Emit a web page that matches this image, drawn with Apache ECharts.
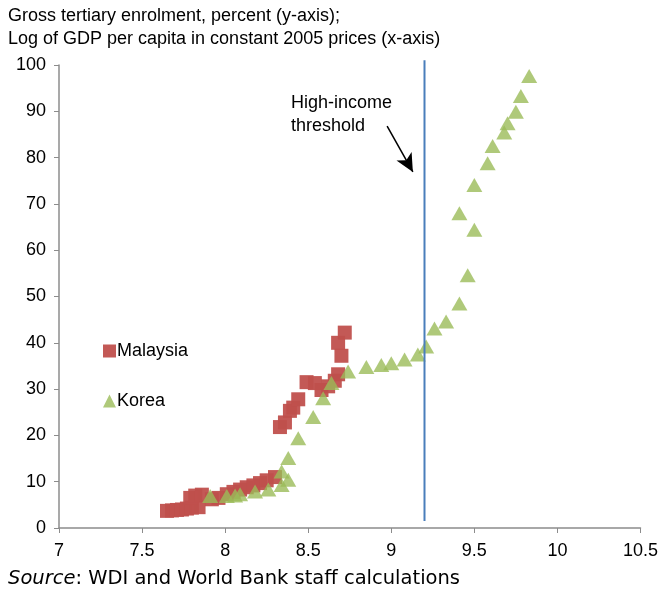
<!DOCTYPE html>
<html lang="en">
<head>
    <meta charset="UTF-8" />
    <title>Tertiary enrolment vs GDP per capita</title>
    <style>
        body {
            margin: 0;
            padding: 0;
            background: #fff;
        }
        .chart {
            width: 661px;
            height: 590px;
        }
    </style>
</head>
<body>
<div class="chart"></div>
<script src="https://cdn.jsdelivr.net/npm/echarts@6/dist/echarts.min.js"></script>
<script>
    // log GDP per capita (x), gross tertiary enrolment % (y)
    const malaysia = [
        [7.65, 3.7], [7.68, 3.8], [7.71, 3.9], [7.74, 4.0], [7.77, 4.2], [7.80, 4.4], [7.84, 4.5],
        [7.79, 6.5], [7.82, 7.0], [7.86, 7.2], [7.92, 6.2], [7.96, 6.5], [8.01, 7.3], [8.05, 7.8],
        [8.09, 8.3], [8.13, 8.8], [8.17, 9.2], [8.21, 9.7], [8.25, 10.3], [8.30, 11.0],
        [8.33, 21.8], [8.36, 22.8], [8.39, 25.3], [8.41, 26.0], [8.44, 27.8], [8.49, 31.5],
        [8.54, 31.3], [8.58, 29.8], [8.62, 30.6], [8.66, 31.8], [8.68, 33.2], [8.70, 37.2],
        [8.68, 40.0], [8.72, 42.2]
    ];
    const korea = [
        [7.91, 6.9], [8.01, 6.9], [8.06, 7.0], [8.09, 7.3], [8.18, 7.9], [8.26, 8.3], [8.34, 9.3],
        [8.38, 10.4], [8.34, 12.2], [8.38, 15.1], [8.44, 19.4], [8.53, 24.0], [8.59, 28.0],
        [8.64, 31.3], [8.74, 33.8], [8.85, 34.8], [8.94, 35.2], [9.00, 35.6], [9.08, 36.4],
        [9.16, 37.5], [9.21, 39.2], [9.26, 43.1], [9.33, 44.6], [9.41, 48.5], [9.46, 54.6],
        [9.50, 64.4], [9.41, 68.0], [9.50, 74.1], [9.58, 78.8], [9.61, 82.5], [9.68, 85.4],
        [9.70, 87.4], [9.75, 89.9], [9.78, 93.3], [9.83, 97.6]
    ];
    const threshold = 9.2;
    const thresholdLine = [[threshold, 1.5], [threshold, 101]];
    const arrowFrom = [8.975, 86.8];
    const arrowTo = [9.13, 76.9];

    const chart = echarts.init(document.querySelector('.chart'));
    const axisGray = '#8c8c8c';
    const font = '"Liberation Sans", Arial, sans-serif';
    const srcFont = '"DejaVu Sans", sans-serif';

    const option = {
        animation: false,
        textStyle: { fontFamily: font },
        title: {
            text: 'Gross tertiary enrolment, percent (y-axis);\nLog of GDP per capita in constant 2005 prices (x-axis)',
            left: 8,
            top: 5,
            padding: 0,
            textStyle: { fontSize: 18, fontWeight: 'normal', color: '#000', lineHeight: 23, fontFamily: font }
        },
        legend: {
            orient: 'vertical',
            left: 98,
            top: 337,
            itemGap: 32,
            itemWidth: 13,
            itemHeight: 13,
            textStyle: { fontSize: 18, color: '#000', padding: [0, 0, 0, -4] },
            data: [
                { name: 'Malaysia', icon: 'rect' },
                { name: 'Korea', icon: 'triangle' }
            ]
        },
        grid: { left: 59, right: 20, top: 65, bottom: 62 },
        xAxis: {
            type: 'value',
            min: 7,
            max: 10.5,
            interval: 0.5,
            splitLine: { show: false },
            axisLine: { lineStyle: { color: axisGray, width: 1.5 } },
            axisTick: { lineStyle: { color: axisGray }, length: 5 },
            axisLabel: { color: '#000', fontSize: 18, margin: 14 }
        },
        yAxis: {
            type: 'value',
            min: 0,
            max: 100,
            interval: 10,
            splitLine: { show: false },
            axisLine: { show: true, lineStyle: { color: axisGray, width: 1.5 } },
            axisTick: { show: true, lineStyle: { color: axisGray }, length: 5 },
            axisLabel: { color: '#000', fontSize: 18, margin: 13 }
        },
        graphic: [
            {
                type: 'text',
                left: 291,
                top: 92,
                style: { text: 'High-income\nthreshold', fontSize: 18, lineHeight: 23, fill: '#000', fontFamily: font }
            },
            {
                type: 'text',
                left: 8,
                top: 569,
                style: {
                    rich: {
                        i: { fontStyle: 'italic', fontSize: 19.5, fontFamily: srcFont, fill: '#000' },
                        n: { fontSize: 19.5, fontFamily: srcFont, fill: '#000' }
                    },
                    text: '{i|Source}{n|: WDI and World Bank staff calculations}'
                }
            }
        ],
        series: [
            {
                name: 'threshold',
                type: 'line',
                data: thresholdLine,
                symbol: 'none',
                clip: false,
                silent: true,
                lineStyle: { color: '#4a7ebb', width: 2 },
                markLine: {
                    silent: true,
                    symbol: ['none', 'arrow'],
                    symbolSize: [13, 18],
                    label: { show: false },
                    lineStyle: { color: '#000', width: 1.5, type: 'solid' },
                    data: [[{ coord: arrowFrom }, { coord: arrowTo }]]
                }
            },
            {
                name: 'Malaysia',
                type: 'scatter',
                data: malaysia,
                symbol: 'rect',
                symbolSize: 14,
                itemStyle: { color: '#c0504d', opacity: 0.95 }
            },
            {
                name: 'Korea',
                type: 'scatter',
                data: korea,
                symbol: 'triangle',
                symbolSize: [16, 14],
                itemStyle: { color: '#9bbb59' }
            }
        ]
    };
    chart.setOption(option);
</script>
</body>
</html>
